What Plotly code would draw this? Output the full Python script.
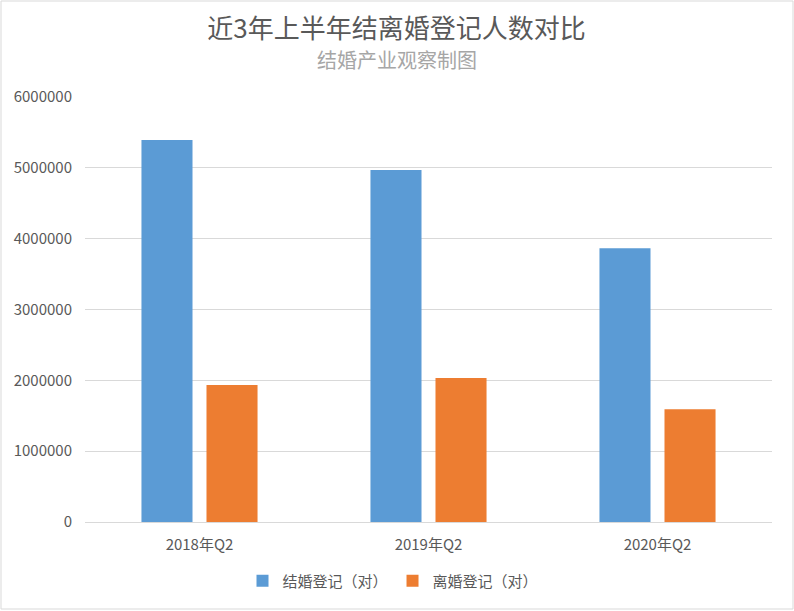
import plotly.graph_objects as go

categories = ["2018年Q2", "2019年Q2", "2020年Q2"]
marriage = [5393000, 4970000, 3866000]
divorce = [1934000, 2033000, 1591000]
series_names = ["结婚登记（对）", "离婚登记（对）"]
y_ticks = [0, 1000000, 2000000, 3000000, 4000000, 5000000, 6000000]

FONT = "Noto Sans CJK SC"
fig = go.Figure()
fig.add_trace(go.Bar(x=categories, y=marriage, name=series_names[0],
                     marker=dict(color="#5B9BD5", line=dict(width=0))))
fig.add_trace(go.Bar(x=categories, y=divorce, name=series_names[1],
                     marker=dict(color="#ED7D31", line=dict(width=0))))

fig.update_layout(
    width=794, height=611,
    margin=dict(l=85, r=22, t=97, b=89),
    paper_bgcolor="white", plot_bgcolor="white",
    barmode="group", bargap=0.432, bargroupgap=0.215,
    font=dict(family=FONT, color="#595959", size=14),
    title=dict(text="近3年上半年结离婚登记人数对比", x=(396.5) / 794, xanchor="center",
               y=1 - 29 / 611, yanchor="middle",
               font=dict(size=26, color="#595959", family=FONT)),
    legend=dict(orientation="h", x=(393 - 85) / 687, xanchor="center", y=-0.139, yanchor="middle",
                font=dict(size=15, color="#595959"), itemwidth=30, traceorder="normal"),
    xaxis=dict(showgrid=False, showline=True, linecolor="#D9D9D9", linewidth=1,
               ticks="", ticklabelstandoff=9, tickfont=dict(size=15, color="#595959")),
    yaxis=dict(range=[0, 6000000], tickvals=y_ticks, ticktext=[str(v) for v in y_ticks],
               showgrid=True, gridcolor="#D9D9D9", gridwidth=1, zeroline=False,
               showline=False, ticks="", ticklabelstandoff=12,
               tickfont=dict(size=15, color="#595959")),
    annotations=[dict(text="结婚产业观察制图", xref="paper", yref="paper", x=(396.5 - 85) / 687,
                      y=(522 - 59) / 425,
                      xanchor="center", yanchor="middle", showarrow=False,
                      font=dict(size=20, color="#A6A6A6", family=FONT))],
    shapes=[dict(type="rect", xref="paper", yref="paper",
                 x0=(1 - 85) / 687, x1=(793 - 85) / 687,
                 y0=(522 - 609) / 425, y1=(522 - 1) / 425,
                 line=dict(color="#D9D9D9", width=1), fillcolor="rgba(0,0,0,0)", layer="below")],
)

fig.write_html("out.html")
